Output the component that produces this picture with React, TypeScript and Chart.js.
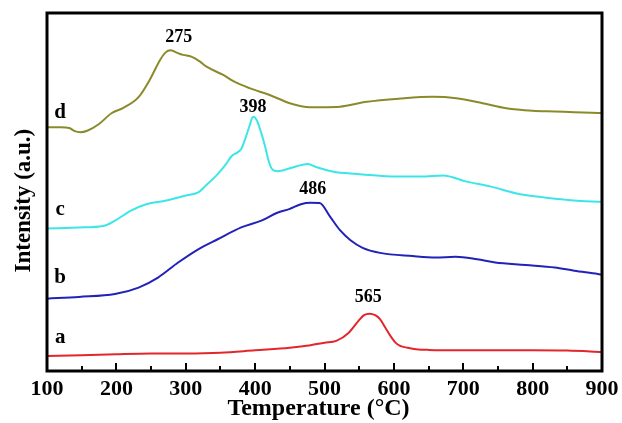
import React, { useEffect, useRef } from "react";
import { Chart, registerables } from "chart.js";

Chart.register(...registerables);

// ---- data (temperature in °C, intensity in arbitrary units, stacked offsets) ----
const tempA = [100, 150, 200, 250, 300, 350, 400, 450, 480, 500, 517, 535, 549, 557, 565, 573, 580, 588, 595, 602, 609, 620, 632, 650, 700, 750, 800, 850, 900];
const intA = [4.2, 4.4, 4.7, 4.9, 4.9, 5.1, 5.8, 6.5, 7.2, 7.9, 8.4, 10.7, 14.0, 15.6, 16.0, 15.6, 14.5, 12.0, 9.8, 8.0, 7.0, 6.5, 6.1, 5.9, 5.8, 5.8, 5.8, 5.7, 5.3];

const tempB = [100, 146, 198, 232, 260, 289, 318, 346, 380, 409, 432, 449, 466, 480, 493, 508, 522, 537, 555, 580, 627, 660, 689, 720, 746, 790, 832, 860, 894, 900];
const intB = [20.2, 20.7, 21.5, 23.3, 26.1, 30.3, 34.0, 36.8, 40.1, 42.0, 44.2, 45.2, 46.6, 47.0, 46.9, 43.1, 39.4, 36.6, 34.4, 33.0, 32.1, 31.7, 31.9, 31.2, 30.3, 29.6, 28.9, 28.0, 27.1, 26.9];

const tempC = [100, 146, 181, 198, 221, 243, 272, 300, 318, 329, 346, 358, 366, 374, 380, 386, 392, 397, 402, 408, 414, 419, 424, 432, 443, 460, 476, 489, 517, 537, 575, 609, 640, 671, 705, 740, 777, 812, 849, 894, 900];
const intC = [39.8, 40.1, 40.5, 42.0, 44.8, 46.6, 47.6, 49.0, 49.9, 51.8, 55.0, 57.8, 60.0, 61.0, 62.0, 65.0, 68.5, 71.0, 70.2, 67.0, 63.0, 59.0, 56.5, 55.8, 56.2, 57.2, 57.8, 56.9, 55.5, 55.2, 54.6, 54.3, 54.3, 54.6, 52.9, 51.5, 49.6, 48.6, 47.8, 47.3, 47.3];

const tempD = [100, 120, 132, 140, 148, 158, 175, 193, 210, 232, 248, 263, 271, 278, 286, 296, 308, 320, 330, 354, 370, 392, 421, 450, 479, 503, 522, 561, 609, 656, 690, 728, 762, 800, 832, 860, 894, 900];
const intD = [68.1, 68.1, 67.9, 67.0, 66.7, 67.1, 69.0, 72.0, 73.5, 76.5, 81.3, 86.9, 89.0, 89.6, 89.0, 88.3, 87.8, 86.5, 85.0, 82.7, 80.8, 79.0, 77.1, 74.8, 73.7, 73.7, 73.8, 75.2, 76.1, 76.6, 76.2, 74.8, 73.4, 72.7, 72.5, 72.3, 72.1, 72.0];

const seriesNames = ["a", "b", "c", "d"];
const seriesColors = ["#e3262b", "#2222b8", "#3ce6e8", "#8b8a2a"];

// curve labels (letter, temperature, intensity)
const curveLabelTemp = [119, 119, 119, 119];
const curveLabelInt = [9.2, 26.0, 45.0, 72.1];

// peak labels
const peakLabels = ["275", "398", "486", "565"];
const peakLabelTemp = [290, 397, 483, 563];
const peakLabelInt = [93.3, 73.7, 50.8, 20.7];

const xTicksMin = 100;
const xTicksMax = 900;
const xMajorStep = 100;
const xMinorStep = 50;

const SERIF = "'Liberation Serif', 'Times New Roman', serif";

function toPoints(xs: number[], ys: number[]) {
  return xs.map((x, i) => ({ x, y: ys[i] }));
}

const framePlugin = {
  id: "frameAndLabels",
  afterDatasetsDraw(chart: any) {
    const { ctx, chartArea } = chart;
    const xs = chart.scales.x;
    const ys = chart.scales.y;
    ctx.save();
    // inward ticks on bottom axis
    ctx.strokeStyle = "#000";
    ctx.lineWidth = 2;
    for (let t = xTicksMin + xMinorStep; t < xTicksMax; t += xMinorStep) {
      const px = Math.round(xs.getPixelForValue(t));
      const len = t % xMajorStep === 0 ? 8 : 5;
      ctx.beginPath();
      ctx.moveTo(px, chartArea.bottom);
      ctx.lineTo(px, chartArea.bottom - len);
      ctx.stroke();
    }
    // frame
    ctx.lineWidth = 3;
    ctx.strokeRect(chartArea.left, chartArea.top, chartArea.right - chartArea.left, chartArea.bottom - chartArea.top);

    // curve letters
    ctx.fillStyle = "#000";
    ctx.font = `bold 21px ${SERIF}`;
    ctx.textAlign = "center";
    ctx.textBaseline = "middle";
    seriesNames.forEach((n, i) => {
      ctx.fillText(n, xs.getPixelForValue(curveLabelTemp[i]), ys.getPixelForValue(curveLabelInt[i]));
    });
    // peak labels
    ctx.font = `bold 18px ${SERIF}`;
    peakLabels.forEach((p, i) => {
      ctx.fillText(p, xs.getPixelForValue(peakLabelTemp[i]), ys.getPixelForValue(peakLabelInt[i]));
    });
    ctx.restore();
  },
};

export default function App() {
  const canvasRef = useRef<HTMLCanvasElement | null>(null);

  useEffect(() => {
    const canvas = canvasRef.current;
    if (!canvas) return;
    const temps = [tempA, tempB, tempC, tempD];
    const ints = [intA, intB, intC, intD];
    const chart = new Chart(canvas, {
      type: "line",
      data: {
        datasets: seriesNames.map((n, i) => ({
          label: n,
          data: toPoints(temps[i], ints[i]),
          borderColor: seriesColors[i],
          backgroundColor: seriesColors[i],
          borderWidth: 2,
          pointRadius: 0,
          cubicInterpolationMode: "monotone" as const,
          fill: false,
        })),
      },
      options: {
        animation: false,
        responsive: false,
        maintainAspectRatio: false,
        devicePixelRatio: 1,
        layout: { padding: { top: 13, right: 20, left: 0, bottom: 0 } },
        plugins: {
          legend: { display: false },
          tooltip: { enabled: false },
        },
        scales: {
          x: {
            type: "linear",
            min: xTicksMin,
            max: xTicksMax,
            grid: { display: false },
            border: { display: false },
            ticks: {
              stepSize: xMajorStep,
              color: "#000",
              padding: -3,
              font: { family: SERIF, size: 22, weight: "bold" },
            },
            title: {
              display: true,
              text: "Temperature (°C)  ",
              color: "#000",
              padding: { top: 0, bottom: 0 },
              font: { family: SERIF, size: 24, weight: "bold" },
            },
            afterFit: (scale: any) => {
              scale.height = 52;
            },
          },
          y: {
            type: "linear",
            min: 0,
            max: 100,
            grid: { display: false },
            border: { display: false },
            ticks: { display: false },
            title: {
              display: true,
              text: "Intensity (a.u.)   ",
              color: "#000",
              padding: { top: 10, bottom: 0 },
              font: { family: SERIF, size: 23, weight: "bold" },
            },
            afterFit: (scale: any) => {
              scale.width = 47;
            },
          },
        },
      },
      plugins: [framePlugin],
    });
    return () => chart.destroy();
  }, []);

  return (
    <div style={{ position: "fixed", left: 0, top: 0, width: 622, height: 423, background: "#fff" }}>
      <canvas ref={canvasRef} width={622} height={423} style={{ width: 622, height: 423, display: "block" }} />
    </div>
  );
}
